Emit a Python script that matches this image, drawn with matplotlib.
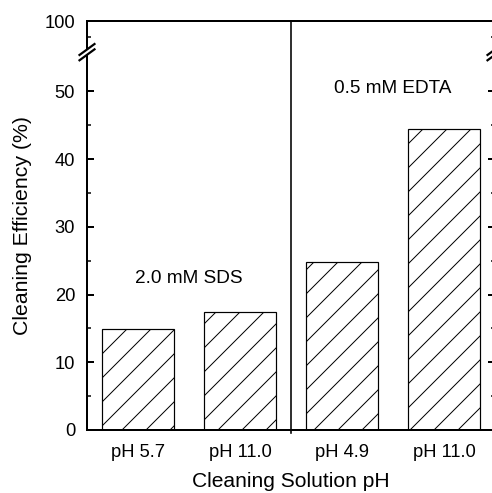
import matplotlib
matplotlib.use("Agg")
import matplotlib.pyplot as plt
import numpy as np

# data
labels = ["pH 5.7", "pH 11.0", "pH 4.9", "pH 11.0"]
efficiency = [14.9, 17.4, 24.8, 44.5]
group_names = ["2.0 mM SDS", "0.5 mM EDTA"]
group_pos = [0.5, 2.5]
group_y = [22.4, 50.5]
ytick_vals = [0, 10, 20, 30, 40, 50]
ytop = 60.4          # top of axis, labelled 100 (broken axis)
ytop_label = "100"

plt.rcParams['font.family'] = ['Liberation Sans', 'DejaVu Sans']
plt.rcParams['hatch.linewidth'] = 0.5

dpi = 144
fig = plt.figure(figsize=(492 / dpi, 493 / dpi), dpi=dpi)
ax = fig.add_axes([87 / 492, 63 / 493, 408 / 492, 409 / 493])

x = np.arange(len(labels))
ax.bar(x, efficiency, width=0.7, color="white", edgecolor="black",
       linewidth=0.6, hatch="//")

ax.set_xlim(-0.5, 3.5)
ax.set_ylim(0, ytop)

# divider between the two cleaning agents
ax.plot([1.5, 1.5], [-0.5, ytop], color="black", lw=0.8, clip_on=False)

for name, px, py in zip(group_names, group_pos, group_y):
    ax.text(px, py, name, ha="center", va="center", fontsize=9.5)

ax.set_xticks(x)
ax.set_xticklabels(labels, fontsize=9.2)
ax.set_yticks(ytick_vals + [ytop])
ax.set_yticklabels([str(v) for v in ytick_vals] + [ytop_label], fontsize=9.2)
ax.set_yticks([5, 15, 25, 35, 45, 58], minor=True)

ax.tick_params(axis="x", length=0, pad=7)
ax.tick_params(axis="y", which="major", direction="in", length=3.5, width=1,
               right=True, pad=6)
ax.tick_params(axis="y", which="minor", direction="in", length=2, width=0.75,
               right=True)

for s in ax.spines.values():
    s.set_linewidth(1)

ax.set_xlabel("Cleaning Solution pH", fontsize=10.5, labelpad=5.5)
ax.set_ylabel("Cleaning Efficiency (%)", fontsize=10.6, labelpad=6)

# axis break marks on both vertical spines
yb = (55.8) / ytop
dx, dy, sep = 0.0184, 0.0134, 0.0065
for xs in (0.0, 1.0):
    poly = plt.Polygon([[xs - dx, yb - dy - sep], [xs + dx, yb + dy - sep],
                        [xs + dx, yb + dy + sep], [xs - dx, yb - dy + sep]],
                       closed=True, transform=ax.transAxes, facecolor="white",
                       edgecolor="none", clip_on=False, zorder=5)
    ax.add_patch(poly)
    for s in (-sep, sep):
        ax.plot([xs - dx, xs + dx], [yb - dy + s, yb + dy + s],
                transform=ax.transAxes, color="black", lw=1.1,
                clip_on=False, zorder=6)

fig.savefig("out.png", dpi=dpi)
